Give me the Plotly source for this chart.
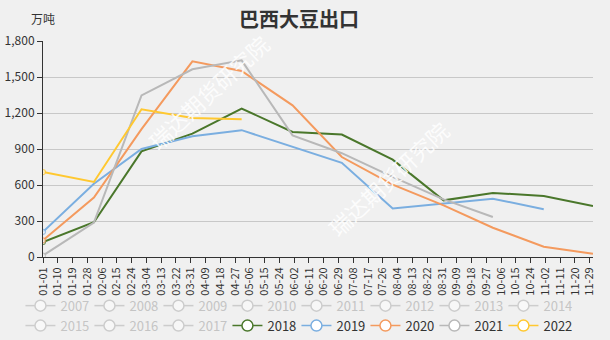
import plotly.graph_objects as go

# ---------------- data ----------------
AXIS_YEAR = "2020"  # leap-year calendar used for the month-day axis
months = ["01-01", "02-01", "03-01", "04-01", "05-01", "06-01",
          "07-01", "08-01", "09-01", "10-01", "11-01", "12-01"]

tick_labels = ["01-01", "01-10", "01-19", "01-28", "02-06", "02-15", "02-24",
               "03-04", "03-13", "03-22", "03-31", "04-09", "04-18", "04-27",
               "05-06", "05-15", "05-24", "06-02", "06-11", "06-20", "06-29",
               "07-08", "07-17", "07-26", "08-04", "08-13", "08-22", "08-31",
               "09-09", "09-18", "09-27", "10-06", "10-15", "10-24", "11-02",
               "11-11", "11-20", "11-29"]

hidden_years = ["2007", "2008", "2009", "2010", "2011", "2012", "2013",
                "2014", "2015", "2016", "2017"]

y2018 = [125, 290, 880, 1028, 1237, 1042, 1021, 811, 472, 534, 508, 424]
y2019 = [210, 610, 900, 1006, 1057, 917, 785, 405, 448, 486, 398]
y2020 = [139, 495, 1065, 1631, 1550, 1264, 833, 603, 430, 244, 85, 28]
y2021 = [12, 287, 1347, 1564, 1639, 1014, 865, 668, 480, 333]
y2022 = [708, 625, 1231, 1158, 1148]

shown = [
    ("2018", y2018, "#4a772b"),
    ("2019", y2019, "#7aaee0"),
    ("2020", y2020, "#f49a5e"),
    ("2021", y2021, "#b8b8b8"),
    ("2022", y2022, "#ffc830"),
]

title_text = "巴西大豆出口"
unit_text = "万吨"
watermark = "瑞达期货研究院"

FONT = "Microsoft YaHei, Noto Sans CJK SC, sans-serif"

fig = go.Figure()

# legend-only (hidden) years
for yr in hidden_years:
    fig.add_trace(go.Scatter(
        x=[None], y=[None], name=f"<span style='color:#999'>{yr}</span>",
        mode="lines+markers", visible="legendonly",
        line=dict(color="#aaaaaa", width=1.5),
        marker=dict(size=11, color="#ffffff", line=dict(color="#aaaaaa", width=1.5)),
    ))

# shown years: data lines + legend entries
for yr, vals, col in shown:
    xs = [f"{AXIS_YEAR}-{m}" for m in months[:len(vals)]]
    sizes = [5] + [0] * (len(vals) - 1)
    fig.add_trace(go.Scatter(
        x=xs, y=vals, name=yr, mode="lines+markers", showlegend=False,
        legendgroup=yr,
        line=dict(color=col, width=2),
        marker=dict(size=sizes, color="#ffffff", line=dict(color=col, width=1.2)),
    ))
    fig.add_trace(go.Scatter(
        x=[None], y=[None], name=yr, mode="lines+markers", legendgroup=yr,
        line=dict(color=col, width=1.5),
        marker=dict(size=11, color="#ffffff", line=dict(color=col, width=1.5)),
    ))

fig.update_layout(
    width=610, height=340,
    margin=dict(l=43, r=17, t=41, b=83, autoexpand=False),
    paper_bgcolor="#f0f0f0", plot_bgcolor="#f0f0f0",
    font=dict(family=FONT, size=12, color="#333333"),
    title=dict(text=f"<b>{title_text}</b>", x=0.49, xanchor="center",
               y=0.94, yanchor="middle", font=dict(size=20, color="#333333")),
    showlegend=True,
    legend=dict(orientation="h", xref="paper", yref="paper",
                x=-0.041, xanchor="left", y=-0.156, yanchor="top",
                entrywidth=24, font=dict(size=13, color="#333333"),
                bgcolor="rgba(0,0,0,0)", tracegroupgap=0, itemclick=False),
    xaxis=dict(type="date", range=[f"{AXIS_YEAR}-01-01", f"{AXIS_YEAR}-12-01"],
               tickvals=[f"{AXIS_YEAR}-{t}" for t in tick_labels],
               ticktext=tick_labels, tickangle=-90,
               tickfont=dict(size=11, color="#333333"),
               showline=True, linecolor="#333333", linewidth=1,
               ticks="outside", ticklen=5, tickcolor="#333333",
               showgrid=False, zeroline=False, fixedrange=True),
    yaxis=dict(range=[0, 1800], tickvals=[0, 300, 600, 900, 1200, 1500, 1800],
               tickformat=",", tickfont=dict(size=12, color="#333333"),
               showline=True, linecolor="#333333", linewidth=1,
               ticks="outside", ticklen=5, tickcolor="#333333",
               gridcolor="#c8c8c8", gridwidth=1, zeroline=False, fixedrange=True),
)

fig.add_annotation(text=unit_text, xref="paper", yref="paper", x=0, y=1.102,
                   xanchor="center", yanchor="middle", showarrow=False,
                   font=dict(size=12, color="#333333"))

for (wx, wy) in [(0.30, 0.765), (0.628, 0.365)]:
    fig.add_annotation(text=watermark, xref="paper", yref="paper", x=wx, y=wy,
                       xanchor="center", yanchor="middle", showarrow=False,
                       textangle=-43,
                       font=dict(size=22, color="rgba(255,255,255,0.85)"))

fig.write_html("out.html")
